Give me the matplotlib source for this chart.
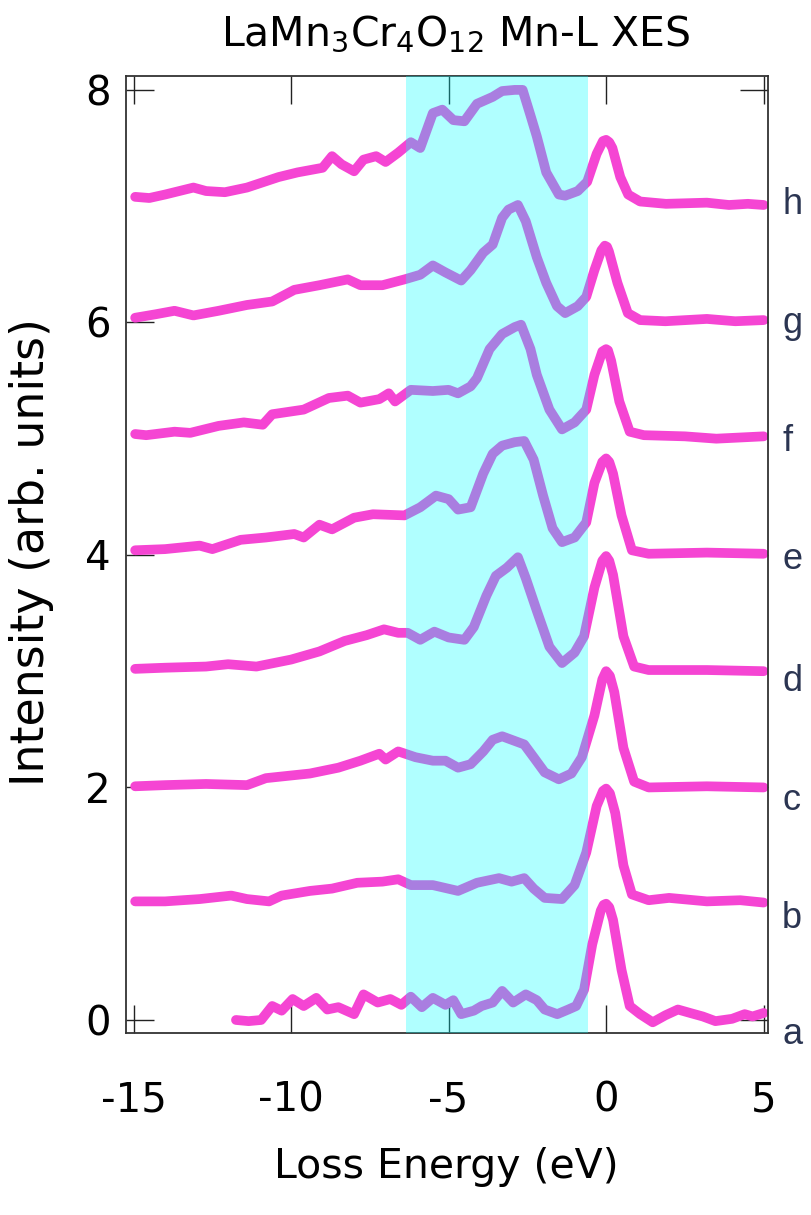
#!/usr/bin/env python3
"""
LaMn3Cr4O12 Mn-L XES: stacked loss spectra a-h with the shaded charge-transfer window.
"""
import matplotlib
matplotlib.use("Agg")
import matplotlib.pyplot as plt
import matplotlib.transforms as mtransforms

plt.rcParams["font.family"] = "DejaVu Sans"
plt.rcParams["mathtext.default"] = "regular"
plt.rcParams["axes.unicode_minus"] = False

# ── spectra (loss energy in eV, intensity offset by one unit per curve) ────
E_a = [-11.75, -11.35, -10.95, -10.6, -10.3, -9.95, -9.6, -9.2, -8.85, -8.5,
       -8.0, -7.7, -7.25, -6.85, -6.5, -6.2, -5.85, -5.5, -5.1, -4.85,
       -4.6, -4.2, -3.95, -3.6, -3.3, -2.95, -2.55, -2.2, -1.95, -1.55,
       -1.2, -0.95, -0.7, -0.44, -0.17, -0.08, 0.0, 0.1, 0.22, 0.49, 0.75, 1.08,
       1.48, 1.88, 2.28, 2.67, 3.07, 3.47, 4.0, 4.4, 4.65, 5.0]
I_a = [0.00, -0.01, 0.00, 0.12, 0.08, 0.18, 0.12, 0.19, 0.09, 0.11,
       0.05, 0.22, 0.15, 0.18, 0.13, 0.20, 0.11, 0.19, 0.13, 0.17,
       0.05, 0.08, 0.12, 0.15, 0.25, 0.15, 0.22, 0.17, 0.09, 0.05,
       0.09, 0.12, 0.26, 0.65, 0.94, 0.99, 1.00, 0.97, 0.86, 0.43, 0.12, 0.05,
       -0.02, 0.04, 0.09, 0.06, 0.03, -0.01, 0.01, 0.05, 0.03, 0.06]

E_b = [-14.95, -14.0, -12.9, -11.9, -11.4, -10.7, -10.3, -9.4, -8.7, -7.9,
       -7.1, -6.6, -6.2, -5.5, -4.7, -4.1, -3.4, -3.0, -2.6, -2.3,
       -1.95, -1.4, -1.0, -0.63, -0.3, -0.1, 0.0, 0.12, 0.29, 0.55, 0.82, 1.35,
       2.0, 3.2, 4.26, 5.0]
I_b = [1.02, 1.02, 1.04, 1.07, 1.04, 1.02, 1.07, 1.11, 1.13, 1.18,
       1.19, 1.21, 1.16, 1.16, 1.11, 1.18, 1.22, 1.19, 1.22, 1.13,
       1.05, 1.04, 1.16, 1.44, 1.84, 1.97, 1.99, 1.95, 1.78, 1.33, 1.08, 1.03,
       1.05, 1.02, 1.03, 1.01]

E_c = [-14.95, -14.0, -12.7, -11.4, -10.8, -9.4, -8.5, -7.8, -7.2, -7.0,
       -6.6, -6.05, -5.5, -5.1, -4.7, -4.3, -3.9, -3.6, -3.3, -2.9,
       -2.6, -2.3, -1.95, -1.5, -1.1, -0.77, -0.37, -0.12, 0.0, 0.12, 0.26, 0.55,
       0.89, 1.35, 3.2, 5.0]
I_c = [2.01, 2.02, 2.03, 2.02, 2.08, 2.12, 2.17, 2.23, 2.29, 2.24,
       2.31, 2.26, 2.23, 2.23, 2.17, 2.20, 2.31, 2.41, 2.44, 2.40,
       2.37, 2.26, 2.13, 2.07, 2.12, 2.26, 2.62, 2.93, 3.00, 2.96, 2.82, 2.34,
       2.05, 2.00, 2.01, 2.00]

E_d = [-14.95, -14.0, -12.7, -12.0, -11.1, -10.0, -9.1, -8.3, -7.6, -7.05,
       -6.6, -6.3, -5.9, -5.45, -5.0, -4.5, -4.2, -3.8, -3.5, -3.15,
       -2.8, -2.55, -2.2, -1.8, -1.4, -1.0, -0.7, -0.37, -0.12, 0.0, 0.1, 0.22,
       0.55, 0.89, 1.35, 3.2, 5.0]
I_d = [3.02, 3.03, 3.04, 3.06, 3.04, 3.10, 3.17, 3.26, 3.31, 3.36,
       3.33, 3.33, 3.27, 3.34, 3.29, 3.27, 3.38, 3.65, 3.82, 3.89,
       3.98, 3.80, 3.52, 3.21, 3.07, 3.16, 3.30, 3.72, 3.95, 3.99, 3.95, 3.83,
       3.30, 3.04, 3.01, 3.01, 3.00]

E_e = [-14.95, -14.0, -12.9, -12.5, -11.6, -10.8, -9.9, -9.6, -9.1, -8.7,
       -8.0, -7.4, -6.4, -5.9, -5.4, -5.0, -4.7, -4.3, -3.9, -3.6,
       -3.3, -2.9, -2.6, -2.3, -2.0, -1.7, -1.4, -1.0, -0.63, -0.37,
       -0.12, 0.0, 0.1, 0.22, 0.49, 0.82, 1.35, 3.2, 5.0]
I_e = [4.04, 4.05, 4.08, 4.05, 4.13, 4.15, 4.18, 4.15, 4.26, 4.22,
       4.32, 4.35, 4.34, 4.41, 4.51, 4.48, 4.39, 4.41, 4.70, 4.87,
       4.94, 4.97, 4.98, 4.82, 4.51, 4.23, 4.11, 4.15, 4.28, 4.62,
       4.80, 4.83, 4.80, 4.70, 4.34, 4.04, 4.01, 4.02, 4.01]

E_f = [-14.95, -14.6, -13.7, -13.2, -12.3, -11.5, -10.9, -10.6, -9.6, -8.8,
       -8.2, -7.8, -7.2, -6.9, -6.7, -6.2, -5.5, -5.0, -4.7, -4.3,
       -4.1, -3.7, -3.3, -2.9, -2.7, -2.4, -2.2, -1.8, -1.4, -1.0,
       -0.63, -0.37, -0.12, 0.0, 0.06, 0.16, 0.42, 0.75, 1.2, 2.5, 3.5, 5.0]
I_f = [5.04, 5.03, 5.06, 5.05, 5.11, 5.14, 5.12, 5.21, 5.25, 5.35,
       5.37, 5.31, 5.34, 5.39, 5.32, 5.42, 5.41, 5.42, 5.39, 5.45,
       5.52, 5.77, 5.90, 5.96, 5.98, 5.77, 5.55, 5.25, 5.08, 5.14,
       5.25, 5.55, 5.75, 5.77, 5.76, 5.67, 5.32, 5.06, 5.03, 5.02, 5.00, 5.02]

E_g = [-14.95, -14.3, -13.7, -13.1, -12.3, -11.4, -10.6, -9.9, -9.1, -8.2,
       -7.8, -7.1, -6.4, -5.9, -5.5, -5.1, -4.6, -4.3, -3.9, -3.6,
       -3.3, -3.1, -2.8, -2.55, -2.2, -1.9, -1.56, -1.3, -0.9, -0.63,
       -0.37, -0.15, -0.04, 0.03, 0.09, 0.36, 0.69, 1.08, 1.88, 3.2, 4.1, 5.0]
I_g = [6.04, 6.07, 6.10, 6.06, 6.10, 6.15, 6.18, 6.28, 6.32, 6.37,
       6.32, 6.32, 6.37, 6.41, 6.49, 6.43, 6.36, 6.45, 6.60, 6.67,
       6.90, 6.97, 7.01, 6.87, 6.56, 6.34, 6.14, 6.08, 6.14, 6.22,
       6.45, 6.62, 6.66, 6.65, 6.61, 6.34, 6.08, 6.02, 6.01, 6.03, 6.01, 6.02]

E_h = [-14.95, -14.5, -14.0, -13.1, -12.7, -12.1, -11.4, -10.4, -9.8, -9.0,
       -8.7, -8.4, -8.0, -7.7, -7.3, -7.0, -6.6, -6.2, -5.9, -5.5,
       -5.2, -4.85, -4.5, -4.1, -3.6, -3.3, -2.9, -2.65, -2.4, -2.2,
       -1.9, -1.5, -1.3, -0.9, -0.6, -0.3, -0.1, 0.0, 0.1, 0.2, 0.45, 0.7,
       1.08, 1.9, 3.2, 3.9, 4.5, 5.0]
I_h = [7.08, 7.07, 7.10, 7.16, 7.13, 7.12, 7.16, 7.25, 7.29, 7.33,
       7.43, 7.36, 7.30, 7.40, 7.43, 7.38, 7.46, 7.55, 7.50, 7.80,
       7.83, 7.74, 7.73, 7.88, 7.94, 7.99, 8.00, 8.00, 7.78, 7.60,
       7.29, 7.10, 7.09, 7.13, 7.21, 7.45, 7.56, 7.57, 7.55, 7.50, 7.25, 7.10,
       7.04, 7.02, 7.03, 7.01, 7.02, 7.01]

SPECTRA = [(E_a, I_a), (E_b, I_b), (E_c, I_c), (E_d, I_d),
           (E_e, I_e), (E_f, I_f), (E_g, I_g), (E_h, I_h)]

CURVE_LABELS = ["a", "b", "c", "d", "e", "f", "g", "h"]
LABEL_Y      = [-0.21, 0.79, 1.81, 2.83, 3.88, 4.89, 5.91, 6.93]

BAND = (-6.36, -0.59)           # shaded window, eV
X_TICKS = [-15, -10, -5, 0, 5]
Y_TICKS = [0, 2, 4, 6, 8]

LINE_COLOR  = "#f545d3"
LABEL_COLOR = "#2b3552"

# ── figure ─────────────────────────────────────────────────────────────────
fig = plt.figure(figsize=(8.11, 12.15), dpi=100)
ax = fig.add_axes([0.1554, 0.1498, 0.7916, 0.7877])

for e, i in SPECTRA:
    ax.plot(e, i, color=LINE_COLOR, lw=7,
            solid_capstyle="round", solid_joinstyle="round", zorder=2)

# translucent cyan over the lines turns them purple inside the window
ax.axvspan(*BAND, color="cyan", alpha=0.31, lw=0, zorder=3)

ax.set_xlim(-15.24, 5.14)
ax.set_ylim(-0.112, 8.12)
ax.set_xticks(X_TICKS)
ax.set_yticks(Y_TICKS)
ax.tick_params(direction="in", length=20, width=1.0, top=True, right=True,
               labelsize=29, color="#222222")
ax.tick_params(axis="x", pad=34)
ax.tick_params(axis="y", pad=11)
for s in ax.spines.values():
    s.set_linewidth(1.3)
    s.set_color("#333333")

trans = mtransforms.blended_transform_factory(ax.transAxes, ax.transData)
for lab, y in zip(CURVE_LABELS, LABEL_Y):
    ax.text(1.022, y, lab, transform=trans, ha="left", va="baseline",
            fontsize=26, family="Liberation Sans", color=LABEL_COLOR,
            clip_on=False)

fig.text(456 / 811, 1 - 45 / 1215, r"LaMn$_3$Cr$_4$O$_{12}$ Mn-L XES",
         ha="center", va="baseline", fontsize=29.5)
fig.text(32 / 811, 1 - 552 / 1215, "Intensity (arb. units)",
         rotation=90, ha="center", va="center", fontsize=33)
fig.text(446 / 811, 1 - 1178 / 1215, "Loss Energy (eV)",
         ha="center", va="baseline", fontsize=29.5)

fig.savefig("out.png", dpi=100)
print("Saved out.png")
